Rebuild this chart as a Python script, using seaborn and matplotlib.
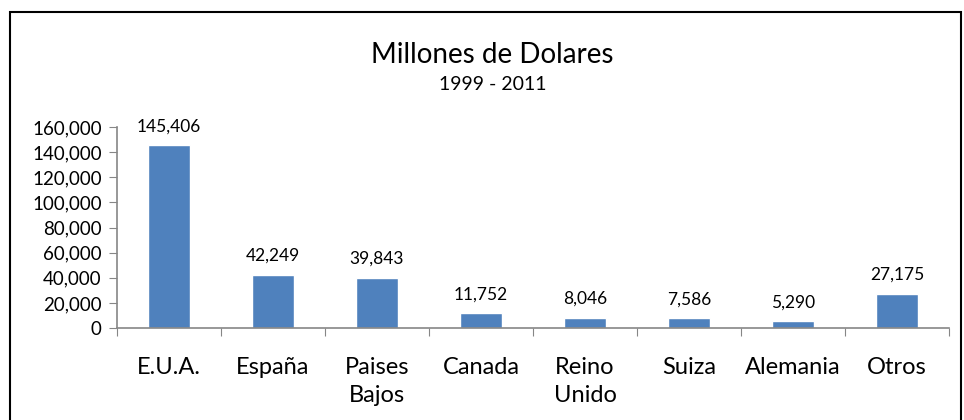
import matplotlib
matplotlib.use("Agg")
import matplotlib.pyplot as plt
import seaborn as sns
import pandas as pd
from matplotlib.patches import Rectangle
from matplotlib.ticker import FuncFormatter, FixedLocator

# datos del grafico
paises = ["E.U.A.", "España", "Paises\nBajos", "Canada", "Reino\nUnido", "Suiza", "Alemania", "Otros"]
valores = [145406, 42249, 39843, 11752, 8046, 7586, 5290, 27175]

df = pd.DataFrame({"pais": paises, "valor": valores})

sns.set_style("white")
plt.rcParams["font.family"] = ["Lato", "DejaVu Sans"]
plt.rcParams["text.color"] = "black"
plt.rcParams["xtick.color"] = "black"
plt.rcParams["ytick.color"] = "black"

fig = plt.figure(figsize=(9.64, 4.2), dpi=100)
ax = fig.add_axes([0.1214, 0.219, 0.863, 0.4786])

sns.barplot(data=df, x="pais", y="valor", color="#4F81BD", width=0.4, saturation=1, ax=ax)

ax.set_ylim(0, 160000)
ax.set_xlim(-0.5, len(paises) - 0.5)
ax.set_yticks(range(0, 160001, 20000))
ax.yaxis.set_major_formatter(FuncFormatter(lambda v, p: f"{v:,.0f}"))
ax.set_xlabel("")
ax.set_ylabel("")

# ticks entre categorias, etiquetas al centro
ax.xaxis.set_major_locator(FixedLocator([i - 0.5 for i in range(len(paises) + 1)]))
ax.xaxis.set_minor_locator(FixedLocator(list(range(len(paises)))))
ax.set_xticklabels([], minor=False)
ax.set_xticklabels(paises, minor=True, fontsize=17, linespacing=1.4)
ax.tick_params(axis="x", which="major", length=6, direction="out", color="#868686", bottom=True)
ax.tick_params(axis="x", which="minor", length=0, pad=21)
ax.tick_params(axis="y", length=6, direction="out", color="#868686", left=True, labelsize=13.5, pad=5)
for lab in ax.get_xticklabels(minor=True):
    lab.set_verticalalignment("top")

sns.despine(ax=ax)
for s in ["left", "bottom"]:
    ax.spines[s].set_color("#868686")
    ax.spines[s].set_linewidth(1.2)

ax.bar_label(ax.containers[0], labels=[f"{v:,.0f}" for v in valores], padding=8, fontsize=12.5)

fig.text(0.511, 0.87, "Millones de Dolares", ha="center", va="center", fontsize=20)
fig.text(0.511, 0.8, "1999 - 2011", ha="center", va="center", fontsize=14)

# marco exterior
fig.patches.append(Rectangle((0.0104, -0.05), 0.987, 1.021, transform=fig.transFigure,
                             fill=False, edgecolor="black", linewidth=1.5))

fig.savefig("out.png", dpi=100)
